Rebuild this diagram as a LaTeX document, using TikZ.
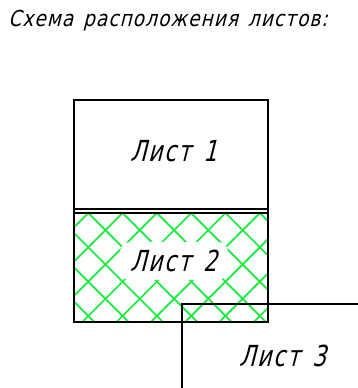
\documentclass[tikz,border=0pt]{standalone}
\usepackage{fontspec}
\newfontfamily\gost{DejaVu Sans}[FakeSlant=0.25, FakeStretch=0.75, LetterSpace=6]
\newfontfamily\gosthead{DejaVu Sans}[FakeSlant=0.25, FakeStretch=0.84, LetterSpace=5, WordSpace=1.4]
\definecolor{hatchgreen}{RGB}{20,235,60}
\begin{document}
\begin{tikzpicture}[x=1pt,y=-1pt, line width=2.8pt,
  sheet/.style={draw, minimum width=194pt, minimum height=113pt, inner sep=0pt, outer sep=0pt},
  lbl/.style={font=\gost\fontsize{29}{30}\selectfont, inner sep=0pt},
  head/.style={font=\gosthead\fontsize{22}{24}\selectfont, inner sep=0pt},
  hatch/.style={draw=hatchgreen, line width=1.7pt}]
\useasboundingbox (0,0) rectangle (357,388);
% heading
\node[head, anchor=base west] (title) at (7,27) {Схема расположения листов:};
% hatch of sheet 2
\begin{scope}
  \clip (74,213) rectangle (268,321);
  \foreach \k in {-5,...,7} {
    \draw[hatch] ({-124.7+\k*34.3+200},200) -- ({-124.7+\k*34.3+340},340);
  }
  \foreach \k in {-2,...,10} {
    \draw[hatch] ({301.3+\k*34.3-200},200) -- ({301.3+\k*34.3-340},340);
  }
\end{scope}
% sheets
\node[sheet] (s1) at (171,156.5) {};
\node[sheet] (s2) at (171,265.5) {};
\node[lbl] (l1) at (174,151) {Лист\hspace{12pt}1};
\node[lbl, fill=white, minimum width=108pt, minimum height=38pt, rounded corners=10pt] (l2) at (174,261) {Лист\hspace{12pt}2};
% sheet 3
\coordinate (c3) at (182,304);
\coordinate (c3b) at (182,390);
\coordinate (c3r) at (360,304);
\draw (c3b) -- (c3) -- (c3r);
\node[lbl] (l3) at (283,356) {Лист\hspace{12pt}3};
\end{tikzpicture}
\end{document}
